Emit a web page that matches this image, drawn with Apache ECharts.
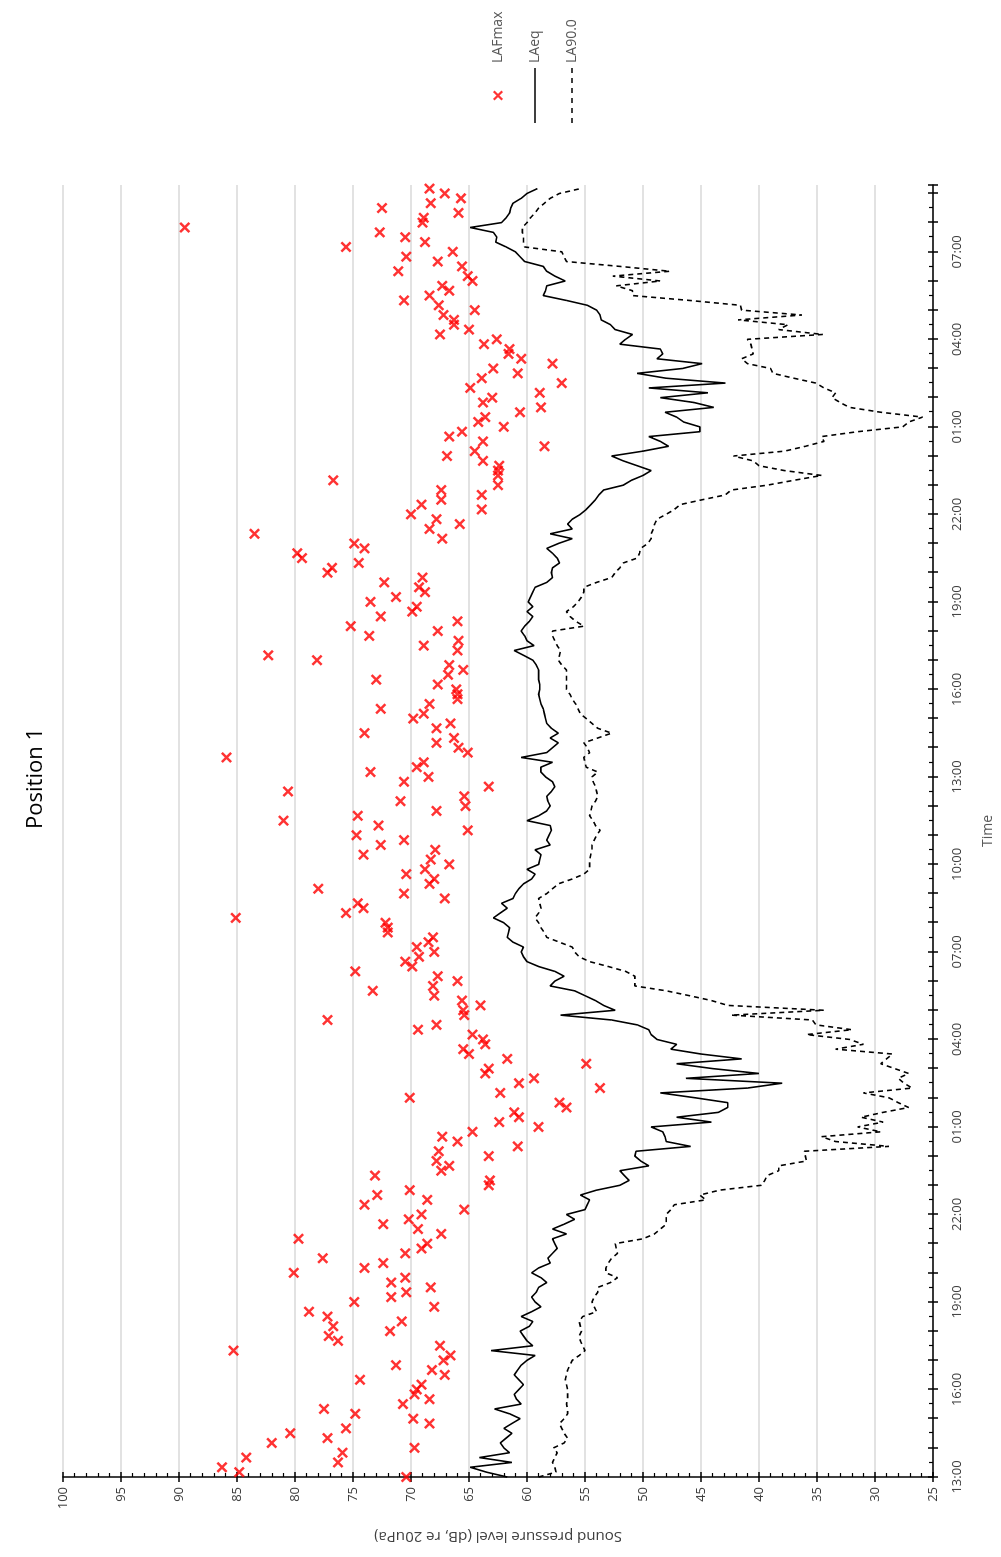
<!DOCTYPE html>
<html>
<head>
<meta charset="utf-8">
<script src="https://cdn.jsdelivr.net/npm/echarts@6/dist/echarts.min.js"></script>
<style>
  html, body { margin: 0; padding: 0; background: #fff; }
  body { width: 1001px; height: 1557px; overflow: hidden; position: relative; }
  /* the chart is drawn landscape and turned a quarter turn to the left */
  #chart {
    position: absolute; left: 0; top: 0;
    width: 1557px; height: 1001px;
    transform-origin: 0 0;
    transform: translate(0, 1557px) rotate(-90deg);
  }
</style>
</head>
<body>
<div id="chart"></div>
<script>
// readings every 10 minutes, starting 13:00
var startHour = 13
var stepHours = 10 / 60

var lafmax = [
  70.4, 84.8, 86.3, 76.3, 84.2, 75.9, 69.7, 82.0, 77.2, 80.4,
  75.6, 68.4, 69.8, 74.8, 77.5, 70.7, 68.4, 69.7, 69.5, 69.1,
  74.4, 67.1, 68.2, 71.3, 67.2, 66.6, 85.3, 67.5, 76.3, 77.1,
  71.8, 76.7, 70.8, 77.2, 78.8, 68.0, 74.9, 71.7, 70.4, 68.3,
  71.7, 70.5, 80.1, 74.0, 72.4, 77.6, 70.5, 69.1, 68.6, 79.7,
  67.4, 69.4, 72.4, 70.2, 69.1, 65.4, 74.0, 68.6, 72.9, 70.1,
  63.3, 63.2, 73.1, 67.4, 66.7, 67.8, 63.3, 67.6, 60.8, 66.0,
  67.3, 64.7, 59.0, 62.4, 60.7, 61.1, 56.6, 57.2, 70.1, 62.3,
  53.7, 60.7, 59.4, 63.6, 63.3, 54.9, 61.7, 65.0, 65.5, 63.6,
  63.8, 64.7, 69.4, 67.8, 77.2, 65.4, 65.5, 64.0, 65.6, 68.0,
  73.3, 68.1, 66.0, 67.7, 74.8, 69.9, 70.5, 69.3, 68.0, 69.5,
  68.5, 68.1, 72.0, 72.0, 72.2, 85.1, 75.6, 74.1, 74.6, 67.1,
  70.6, 78.0, 68.4, 68.0, 70.4, 68.8, 66.7, 68.3, 74.1, 67.9,
  72.6, 70.6, 74.7, 65.1, 72.8, 81.0, 74.6, 67.8, 65.3, 70.9,
  65.4, 80.6, 63.3, 70.6, 68.5, 73.5, 69.5, 68.9, 85.9, 65.1,
  65.9, 67.8, 66.3, 74.0, 67.8, 66.6, 69.8, 68.9, 72.6, 68.4,
  66.0, 66.0, 66.1, 67.7, 73.0, 66.8, 65.5, 66.7, 78.1, 82.3,
  66.0, 68.9, 65.9, 73.6, 67.7, 75.2, 66.0, 72.6, 69.9, 69.5,
  73.5, 71.3, 68.8, 69.3, 72.3, 69.0, 77.2, 76.8, 74.5, 79.4,
  79.8, 74.0, 74.9, 67.3, 83.5, 68.4, 65.8, 67.8, 70.0, 63.9,
  69.1, 67.4, 63.9, 67.4, 62.5, 76.7, 62.5, 62.5, 62.4, 63.8,
  66.9, 64.5, 58.5, 63.8, 66.7, 65.6, 62.0, 64.2, 63.6, 60.6,
  58.8, 63.8, 63.0, 58.9, 64.9, 57.0, 63.9, 60.8, 62.9, 57.8,
  60.5, 61.6, 61.5, 63.7, 62.6, 67.5, 65.0, 66.3, 66.3, 67.2,
  64.5, 67.6, 70.6, 68.4, 66.7, 67.3, 64.7, 65.1, 71.1, 65.6,
  67.7, 70.4, 66.4, 75.6, 68.8, 70.5, 72.7, 89.5, 69.0, 68.9,
  65.9, 72.5, 68.3, 65.7, 67.1, 68.4
]

var laeq = [
  61.7, 63.5, 64.9, 61.3, 64.1, 61.5, 62.0, 62.3, 61.8, 61.3,
  62.0, 61.3, 60.6, 61.5, 62.8, 60.5, 60.9, 61.1, 60.7, 60.3,
  60.7, 61.1, 60.8, 60.5, 60.0, 59.3, 63.1, 59.5, 60.0, 60.3,
  60.6, 59.8, 59.5, 60.5, 59.6, 58.8, 59.3, 59.6, 59.2, 59.0,
  58.3, 58.8, 59.6, 59.0, 58.0, 58.2, 57.8, 57.4, 57.6, 57.8,
  56.6, 57.8, 56.8, 55.9, 56.6, 55.0, 54.8, 54.6, 55.4, 54.0,
  52.0, 51.2, 51.6, 52.0, 49.5, 50.2, 50.7, 50.6, 45.9, 48.0,
  48.1, 48.3, 49.3, 44.1, 47.1, 43.5, 42.7, 42.7, 45.5, 48.5,
  41.0, 38.0, 46.3, 40.0, 44.0, 47.1, 41.5, 45.0, 47.6, 47.1,
  48.8, 49.3, 49.5, 50.5, 52.7, 57.1, 52.4, 53.4, 54.1, 55.0,
  55.9, 58.0, 57.6, 56.8, 57.6, 59.0, 60.0, 60.3, 60.5, 60.3,
  61.2, 61.7, 61.6, 61.5, 62.0, 62.9, 62.3, 61.7, 62.2, 61.2,
  61.0, 60.7, 60.3, 59.6, 59.3, 60.0, 59.0, 58.9, 58.8, 59.3,
  58.0, 58.3, 58.1, 57.9, 58.0, 60.0, 59.0, 58.3, 58.0, 58.2,
  58.3, 57.9, 57.6, 57.8, 58.4, 58.8, 58.8, 57.8, 60.5, 58.3,
  57.8, 57.3, 58.0, 57.3, 57.9, 58.3, 58.4, 58.5, 58.6, 58.8,
  58.9, 59.0, 58.9, 58.9, 59.0, 59.0, 59.0, 59.2, 59.5, 60.3,
  61.1, 59.4, 60.0, 60.2, 60.5, 60.2, 59.8, 59.5, 60.0, 59.5,
  59.9, 59.7, 59.5, 59.3, 58.3, 57.8, 57.9, 57.8, 57.2, 57.4,
  57.8, 58.3, 57.3, 56.1, 58.0, 56.1, 56.5, 56.1, 55.4, 54.9,
  54.5, 54.1, 53.8, 53.4, 51.7, 51.0, 50.0, 49.3, 50.5, 51.7,
  52.7, 50.0, 47.8, 48.5, 49.5, 45.1, 45.1, 46.5, 47.1, 48.1,
  43.9, 45.6, 48.5, 44.4, 49.5, 42.9, 48.0, 50.5, 46.6, 44.9,
  48.8, 48.3, 48.5, 52.0, 51.5, 50.9, 52.4, 52.8, 53.6, 53.7,
  54.0, 54.8, 56.6, 58.6, 58.4, 58.3, 56.7, 57.6, 58.3, 58.6,
  60.2, 60.6, 61.0, 61.8, 62.7, 62.6, 62.9, 64.9, 62.2, 61.8,
  61.5, 61.4, 61.2, 60.5, 60.0, 59.1
]

var la90 = [
  59.0, 57.5, 57.6, 57.8, 57.6, 57.4, 57.7, 56.8, 56.5, 56.8,
  57.0, 57.2, 56.8, 56.5, 56.5, 56.6, 56.5, 56.5, 56.5, 56.6,
  56.7, 56.6, 56.5, 56.3, 56.1, 55.5, 55.0, 55.2, 55.4, 55.5,
  55.3, 55.4, 55.5, 55.2, 54.0, 54.2, 54.4, 54.2, 53.9, 53.9,
  52.8, 52.2, 53.2, 53.2, 53.0, 52.7, 52.2, 52.3, 52.4, 50.0,
  49.0, 48.5, 48.0, 48.0, 48.0, 47.6, 47.3, 44.6, 45.1, 43.4,
  39.8, 39.5, 39.3, 38.3, 38.3, 35.9, 36.0, 36.1, 28.8, 33.4,
  34.6, 29.5, 31.5, 29.3, 31.2, 29.3, 27.1, 28.0, 28.8, 31.0,
  26.8, 27.5, 28.0, 27.1, 28.3, 29.5, 29.0, 28.5, 33.4, 31.0,
  32.2, 35.9, 32.0, 35.1, 35.4, 42.4, 34.4, 42.7, 44.1, 46.0,
  48.0, 50.7, 50.7, 50.7, 51.5, 53.0, 54.6, 55.5, 55.9, 56.1,
  57.2, 58.3, 58.5, 58.8, 59.0, 59.3, 59.0, 58.8, 58.9, 59.0,
  58.3, 57.8, 57.3, 56.1, 55.1, 54.6, 54.6, 54.6, 54.5, 54.4,
  54.4, 54.2, 54.0, 53.7, 54.1, 54.3, 54.6, 54.5, 54.4, 54.1,
  53.9, 54.0, 54.1, 54.3, 54.4, 53.9, 54.9, 55.0, 55.1, 54.6,
  54.8, 55.1, 53.9, 52.7, 53.9, 54.4, 54.9, 55.4, 55.6, 55.8,
  56.1, 56.3, 56.6, 56.6, 56.6, 56.6, 56.6, 57.0, 57.3, 57.2,
  57.1, 57.4, 57.6, 57.8, 57.8, 55.1, 55.8, 56.3, 56.6, 56.0,
  55.6, 55.3, 55.1, 55.1, 54.0, 52.7, 52.4, 52.0, 51.7, 50.5,
  50.3, 50.2, 49.6, 49.3, 49.3, 49.1, 49.0, 48.8, 48.0, 47.3,
  46.8, 44.9, 42.9, 42.4, 39.3, 37.0, 34.6, 37.8, 40.0, 40.5,
  42.2, 37.8, 36.0, 34.4, 34.6, 31.5, 27.6, 27.1, 25.9, 29.5,
  32.2, 33.0, 33.7, 33.4, 34.4, 35.1, 37.0, 38.8, 39.0, 41.0,
  41.5, 40.5, 40.6, 40.7, 41.0, 34.5, 38.3, 37.5, 41.8, 36.3,
  41.5, 41.6, 46.0, 50.9, 50.9, 52.3, 48.5, 52.6, 47.7, 52.0,
  56.6, 56.8, 57.0, 60.2, 60.3, 60.3, 60.4, 60.4, 60.0, 59.7,
  59.3, 59.0, 58.5, 58.0, 57.2, 55.4
]

var seriesNames = ['LAFmax', 'LAeq', 'LA90.0']
var timeEnd = 44.29
var splMin = 25, splMax = 100

function pairs(arr) {
  return arr.map(function (v, i) { return [i * stepHours, v] })
}

function hourLabel(v) {
  var r = Math.round(v)
  if (Math.abs(v - r) > 1e-6 || r % 3 !== 0) return ''
  var h = (startHour + r) % 24
  return (h < 10 ? '0' : '') + h + ':00'
}

var crossPath = 'path://M0,1.6L1.6,0L5,3.4L8.4,0L10,1.6L6.6,5L10,8.4L8.4,10L5,6.6L1.6,10L0,8.4L3.4,5Z'
// legend keys: plain bar for the solid line, broken bar for the dashed one
var solidKey = 'path://M0,0h55v1.6h-55z'
var dashKey = 'path://M0,0h5v1.6h-5zM10,0h5v1.6h-5zM20,0h5v1.6h-5zM30,0h5v1.6h-5zM40,0h5v1.6h-5zM50,0h5v1.6h-5z'
var font = '"Open Sans", "Noto Sans", sans-serif'
var ink = '#000'

var myChart = echarts.init(document.getElementById('chart'), null, { renderer: 'canvas', width: 1557, height: 1001 })

var option = {
  animation: false,
  backgroundColor: '#fff',
  textStyle: { fontFamily: font },
  title: {
    text: 'Position 1',
    left: 'center',
    top: 20,
    textStyle: { fontFamily: font, fontSize: 22, fontWeight: 'normal', color: '#000' }
  },
  legend: {
    orient: 'vertical',
    left: 1429,
    top: 486,
    itemWidth: 55,
    itemHeight: 10,
    itemGap: 23,
    data: [
      { name: seriesNames[0] },
      { name: seriesNames[1], icon: solidKey },
      { name: seriesNames[2], icon: dashKey }
    ],
    textStyle: { fontFamily: font, fontSize: 14, color: '#595959' }
  },
  grid: { left: 80, right: 185, top: 63, bottom: 68 },
  xAxis: [{
    type: 'value',
    min: 0,
    max: timeEnd,
    interval: 1,
    position: 'bottom',
    name: 'Time',
    nameLocation: 'middle',
    nameGap: 48,
    nameTextStyle: { fontFamily: font, fontSize: 14, color: '#595959' },
    axisLine: { show: true, onZero: false, lineStyle: { color: ink, width: 1.5 } },
    axisTick: { show: true, inside: false, length: 5, lineStyle: { color: ink, width: 1.5 } },
    axisLabel: { formatter: hourLabel, margin: 18, fontSize: 13, color: '#404040', fontFamily: font },
    splitLine: { show: false }
  }, {
    type: 'value',
    min: 0,
    max: timeEnd,
    interval: 1,
    position: 'bottom',
    axisLine: { show: false, onZero: false },
    axisTick: { show: true, inside: true, length: 5, lineStyle: { color: ink, width: 1.5 } },
    minorTick: { show: true, splitNumber: 2, length: 4, lineStyle: { color: ink, width: 1.2 } },
    axisLabel: { show: false },
    splitLine: { show: false }
  }],
  yAxis: [{
    type: 'value',
    min: splMin,
    max: splMax,
    interval: 5,
    name: 'Sound pressure level (dB, re 20uPa)',
    nameLocation: 'middle',
    nameGap: 52,
    nameTextStyle: { fontFamily: font, fontSize: 15, color: '#404040' },
    axisLine: { show: true, onZero: false, lineStyle: { color: ink, width: 1.5 } },
    axisTick: { show: true, inside: false, length: 5, lineStyle: { color: ink, width: 1.5 } },
    axisLabel: { margin: 10, fontSize: 13, color: '#404040', fontFamily: font },
    splitLine: { show: true, lineStyle: { color: '#d9d9d9', width: 1.5 } }
  }, {
    type: 'value',
    min: splMin,
    max: splMax,
    interval: 5,
    position: 'left',
    axisLine: { show: false, onZero: false },
    axisTick: { show: true, inside: true, length: 5, lineStyle: { color: ink, width: 1.5 } },
    minorTick: { show: true, splitNumber: 5, length: 4, lineStyle: { color: ink, width: 1.2 } },
    axisLabel: { show: false },
    splitLine: { show: false }
  }],
  series: [{
    name: 'LAFmax',
    type: 'scatter',
    xAxisIndex: 0,
    yAxisIndex: 0,
    symbol: crossPath,
    symbolSize: 11,
    itemStyle: { color: '#ff0000' },
    data: pairs(lafmax),
    z: 3
  }, {
    name: 'LAeq',
    type: 'line',
    xAxisIndex: 0,
    yAxisIndex: 0,
    symbol: 'none',
    lineStyle: { color: '#000', width: 1.6 },
    itemStyle: { color: '#000' },
    data: pairs(laeq),
    z: 2
  }, {
    name: 'LA90.0',
    type: 'line',
    xAxisIndex: 0,
    yAxisIndex: 0,
    symbol: 'none',
    lineStyle: { color: '#000', width: 1.6, type: [5, 4] },
    itemStyle: { color: '#000' },
    data: pairs(la90),
    z: 2
  }]
}

myChart.setOption(option)
</script>
</body>
</html>
